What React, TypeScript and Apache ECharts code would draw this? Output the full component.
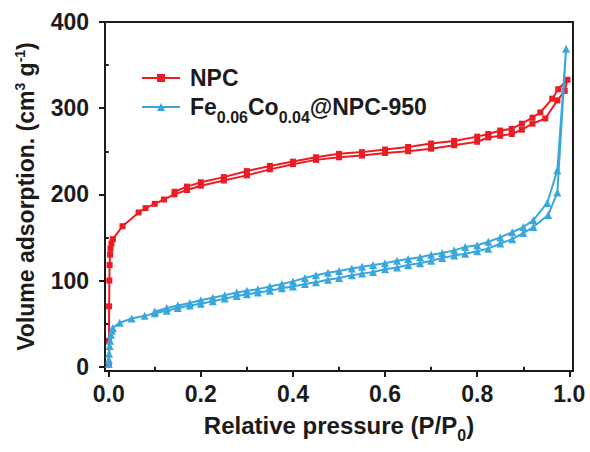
import React, { useEffect, useRef } from "react";
import * as echarts from "echarts";

// N2 sorption isotherms: [relative pressure, adsorbed volume]
const npcAdsorption: [number, number][] = [
  [0.0002, 2], [0.0006, 30], [0.001, 70], [0.0015, 100], [0.002, 118], [0.003, 130],
  [0.004, 137], [0.006, 143], [0.009, 148], [0.03, 163], [0.065, 179], [0.08, 184],
  [0.1, 189], [0.12, 194], [0.143, 200], [0.17, 205], [0.2, 210], [0.25, 216],
  [0.3, 222], [0.35, 229], [0.4, 235], [0.45, 240], [0.5, 243], [0.55, 245],
  [0.6, 248], [0.65, 250], [0.7, 253], [0.75, 257], [0.8, 261], [0.824, 266],
  [0.85, 268], [0.875, 270], [0.897, 275], [0.92, 282], [0.948, 288], [0.974, 309],
  [0.99, 320], [0.996, 333],
];
const npcDesorption: [number, number][] = [
  [0.976, 322], [0.963, 311], [0.937, 295], [0.92, 289], [0.897, 282], [0.875, 276],
  [0.85, 274], [0.824, 270], [0.8, 267], [0.75, 262], [0.7, 259], [0.65, 255],
  [0.6, 252], [0.55, 249], [0.5, 247], [0.45, 243], [0.4, 238], [0.35, 233],
  [0.3, 227], [0.25, 220], [0.2, 214], [0.17, 209], [0.143, 203],
];
const feCoAdsorption: [number, number][] = [
  [0.0002, 3], [0.0005, 8], [0.001, 15], [0.002, 24], [0.003, 30], [0.005, 37],
  [0.007, 42], [0.009, 45], [0.024, 51], [0.05, 56], [0.078, 59], [0.1, 62],
  [0.126, 65], [0.15, 68], [0.176, 71], [0.2, 73], [0.226, 76], [0.252, 79],
  [0.278, 82], [0.3, 84], [0.324, 86], [0.35, 88], [0.376, 91], [0.4, 93],
  [0.426, 96], [0.45, 98], [0.476, 101], [0.5, 103], [0.528, 106], [0.55, 108],
  [0.574, 110], [0.6, 113], [0.626, 115], [0.65, 118], [0.676, 120], [0.7, 123],
  [0.724, 126], [0.75, 129], [0.774, 131], [0.8, 134], [0.824, 137], [0.85, 143],
  [0.876, 148], [0.9, 155], [0.922, 162], [0.954, 176], [0.974, 202], [0.993, 369],
];
const feCoDesorption: [number, number][] = [
  [0.974, 228], [0.952, 190], [0.922, 170], [0.9, 162], [0.876, 156], [0.85, 150],
  [0.824, 145], [0.8, 141], [0.774, 139], [0.75, 135], [0.724, 132], [0.7, 130],
  [0.676, 127], [0.65, 125], [0.626, 123], [0.6, 120], [0.574, 118], [0.55, 116],
  [0.528, 114], [0.5, 111], [0.476, 109], [0.45, 106], [0.426, 103], [0.4, 99],
  [0.376, 96], [0.35, 93], [0.324, 90], [0.3, 88], [0.278, 86], [0.252, 83],
  [0.226, 80], [0.2, 77], [0.176, 74], [0.15, 71], [0.126, 68], [0.1, 64],
];

const xMajorTicks = [0, 0.2, 0.4, 0.6, 0.8, 1.0];
const xMinorTicks = [0.1, 0.3, 0.5, 0.7, 0.9];
const yMajorTicks = [0, 100, 200, 300, 400];
const yMinorTicks = [50, 150, 250, 350];

const seriesNames = ["NPC", "Fe0.06Co0.04@NPC-950"];
const legendLabels = ["NPC", "Fe{sub|0.06}Co{sub|0.04}@NPC-950"];

const INK = "#1c1a1a";
const RED = "#ec1c24";
const BLUE = "#3aa7dc";
const FONT = "'Liberation Sans', Arial, Helvetica, sans-serif";

const X_MIN = -0.008;
const X_MAX = 1.008;
const Y_MIN = -5;
const Y_MAX = 400;

export default function App() {
  const ref = useRef<HTMLDivElement>(null);

  useEffect(() => {
    if (!ref.current) return;
    const chart = echarts.init(ref.current, undefined, { renderer: "svg" });

    const baseText = { fontFamily: FONT, fontWeight: "bold" as const, color: INK };

    const option = {
      animation: false,
      backgroundColor: "#ffffff",
      grid: {
        left: 105,
        right: 17,
        top: 22,
        bottom: 81,
        containLabel: false,
        outerBoundsMode: "none",
        show: true,
        borderColor: INK,
        borderWidth: 2,
      },
      legend: {
        orient: "vertical",
        left: 136,
        top: 59,
        itemWidth: 38,
        itemHeight: 10,
        itemGap: 1,
        data: seriesNames,
        formatter: (name: string) => legendLabels[seriesNames.indexOf(name)],
        textStyle: {
          ...baseText,
          fontSize: 23,
          lineHeight: 28,
          padding: [0, 0, 0, 5],
          rich: {
            // a short box at the bottom of the line drops the subscript below the baseline
            sub: { ...baseText, fontSize: 16, height: 7, lineHeight: 4, verticalAlign: "bottom" },
          },
        },
      },
      xAxis: [
        {
          type: "value",
          min: X_MIN,
          max: X_MAX,
          position: "bottom",
          name: "Relative pressure (P/P{sub|0})",
          nameLocation: "middle",
          nameGap: 40,
          nameTextStyle: {
            ...baseText,
            fontSize: 24,
            lineHeight: 28,
            rich: {
              sub: { ...baseText, fontSize: 16, height: 8, lineHeight: 8, verticalAlign: "bottom" },
            },
          },
          axisLine: { show: true, onZero: false, lineStyle: { color: INK, width: 2 } },
          axisTick: {
            show: true,
            inside: false,
            length: 6,
            customValues: xMajorTicks,
            lineStyle: { color: INK, width: 2 },
          },
          axisLabel: {
            ...baseText,
            fontSize: 23,
            margin: 11,
            customValues: xMajorTicks,
            formatter: (v: number) => v.toFixed(1),
          },
          splitLine: { show: false },
        },
        {
          type: "value",
          min: X_MIN,
          max: X_MAX,
          position: "bottom",
          axisLine: { show: false },
          axisTick: {
            show: true,
            inside: false,
            length: 4,
            customValues: xMinorTicks,
            lineStyle: { color: INK, width: 2 },
          },
          axisLabel: { show: false },
          splitLine: { show: false },
        },
      ],
      yAxis: [
        {
          type: "value",
          min: Y_MIN,
          max: Y_MAX,
          position: "left",
          name: "Volume adsorption. (cm{sup|3} g{sup|-1})",
          nameLocation: "middle",
          nameGap: 62,
          nameTextStyle: {
            ...baseText,
            fontSize: 23,
            lineHeight: 27,
            rich: {
              sup: { ...baseText, fontSize: 14, lineHeight: 14, verticalAlign: "top" },
            },
          },
          axisLine: { show: true, onZero: false, lineStyle: { color: INK, width: 2 } },
          axisTick: {
            show: true,
            inside: false,
            length: 6,
            customValues: yMajorTicks,
            lineStyle: { color: INK, width: 2 },
          },
          axisLabel: {
            ...baseText,
            fontSize: 23,
            margin: 16,
            customValues: yMajorTicks,
          },
          splitLine: { show: false },
        },
        {
          type: "value",
          min: Y_MIN,
          max: Y_MAX,
          position: "left",
          axisLine: { show: false },
          axisTick: {
            show: true,
            inside: false,
            length: 4,
            customValues: yMinorTicks,
            lineStyle: { color: INK, width: 2 },
          },
          axisLabel: { show: false },
          splitLine: { show: false },
        },
      ],
      series: [
        {
          name: seriesNames[0],
          type: "line",
          xAxisIndex: 0,
          yAxisIndex: 0,
          data: [...npcAdsorption, ...npcDesorption],
          symbol: "rect",
          symbolSize: 6,
          showAllSymbol: true,
          lineStyle: { color: RED, width: 2 },
          itemStyle: { color: RED },
          z: 3,
        },
        {
          name: seriesNames[1],
          type: "line",
          xAxisIndex: 0,
          yAxisIndex: 0,
          data: [...feCoAdsorption, ...feCoDesorption],
          symbol: "triangle",
          symbolSize: 8,
          showAllSymbol: true,
          lineStyle: { color: BLUE, width: 2 },
          itemStyle: { color: BLUE },
          z: 4,
        },
      ],
    };

    chart.setOption(option as any);
    return () => chart.dispose();
  }, []);

  return (
    <div
      ref={ref}
      style={{ position: "fixed", left: 0, top: 0, width: 590, height: 452, background: "#fff" }}
    />
  );
}
